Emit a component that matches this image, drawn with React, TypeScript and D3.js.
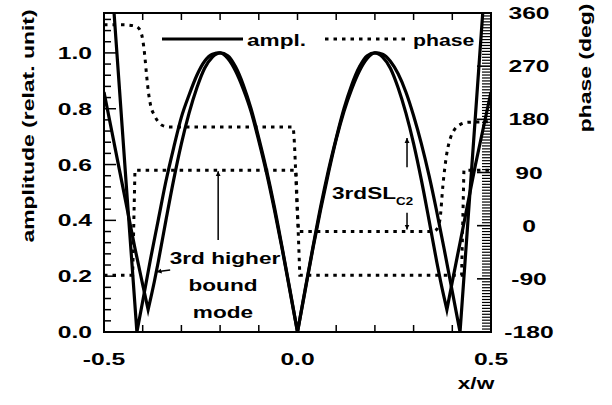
import React from "react";
import * as d3 from "d3";

const W = 612;
const H = 405;

// axis ticks
const xTickLabels = [-0.5, 0, 0.5];
const ampTickLabels = [0, 0.2, 0.4, 0.6, 0.8, 1.0];
const phaseTickLabels = [-180, -90, 0, 90, 180, 270, 360];

// amplitude curve A (zero at nodes)
const ampAX = [-0.5, -0.48, -0.46, -0.44, -0.415, -0.40, -0.38, -0.36, -0.34, -0.32, -0.30, -0.28, -0.26, -0.24, -0.22, -0.20, -0.18, -0.16, -0.14, -0.12, -0.10, -0.08, -0.06, -0.04, -0.02, 0, 0.02, 0.04, 0.06, 0.08, 0.10, 0.12, 0.14, 0.16, 0.18, 0.20, 0.22, 0.24, 0.26, 0.28, 0.30, 0.32, 0.34, 0.36, 0.38, 0.40, 0.42, 0.44, 0.46, 0.48, 0.50];
const ampA = [1.65, 1.26, 0.87, 0.48, 0.0, 0.11, 0.26, 0.40, 0.54, 0.66, 0.77, 0.85, 0.92, 0.97, 0.995, 1.0, 0.98, 0.935, 0.87, 0.79, 0.685, 0.57, 0.44, 0.30, 0.15, 0.0, 0.15, 0.30, 0.44, 0.57, 0.69, 0.79, 0.87, 0.935, 0.98, 1.0, 0.995, 0.97, 0.925, 0.86, 0.775, 0.675, 0.56, 0.43, 0.29, 0.145, 0.0, 0.39, 0.78, 1.17, 1.56];

// amplitude curve B (3rd higher bound mode, non-zero minima)
const ampBX = [-0.5, -0.48, -0.46, -0.44, -0.42, -0.40, -0.386, -0.37, -0.36, -0.34, -0.32, -0.30, -0.28, -0.26, -0.24, -0.22, -0.20, -0.18, -0.16, -0.14, -0.12, -0.10, -0.08, -0.06, -0.04, -0.02, 0, 0.02, 0.04, 0.06, 0.08, 0.10, 0.12, 0.14, 0.16, 0.18, 0.20, 0.22, 0.24, 0.26, 0.28, 0.30, 0.32, 0.34, 0.36, 0.37, 0.386, 0.40, 0.42, 0.44, 0.46, 0.48, 0.50];
const ampB = [0.86, 0.72, 0.58, 0.44, 0.30, 0.17, 0.08, 0.18, 0.25, 0.40, 0.545, 0.675, 0.785, 0.875, 0.945, 0.985, 1.0, 0.99, 0.95, 0.885, 0.80, 0.695, 0.58, 0.45, 0.305, 0.155, 0.0, 0.155, 0.305, 0.45, 0.58, 0.695, 0.80, 0.885, 0.95, 0.99, 1.0, 0.985, 0.945, 0.875, 0.785, 0.675, 0.545, 0.40, 0.25, 0.18, 0.08, 0.18, 0.32, 0.46, 0.60, 0.73, 0.86];

// phase curves (deg)
const phase1X = [-0.5, -0.45, -0.42, -0.41, -0.40, -0.395, -0.39, -0.385, -0.38, -0.37, -0.36, -0.35, -0.33, -0.012, 0.004, 0.35, 0.36, 0.368, 0.376, 0.386, 0.395, 0.405, 0.42, 0.44, 0.5];
const phase1 = [340, 340, 338, 334, 315, 290, 255, 225, 205, 187, 176, 170, 167, 167, -10, -10, -6, 10, 70, 123, 148, 162, 171, 175, 176];
const phase2X = [-0.5, -0.426, -0.42, -0.004, 0.006, 0.424, 0.43, 0.5];
const phase2 = [-84, -84, 94, 94, -84, -84, 94, 94];

const FONT = "'Liberation Sans', Arial, Helvetica, sans-serif";

function splitAtMinima(xs: number[], ys: number[]) {
  const out: [number, number][][] = [];
  let cur: [number, number][] = [[xs[0], ys[0]]];
  for (let i = 1; i < xs.length; i++) {
    cur.push([xs[i], ys[i]]);
    if (i < xs.length - 1 && ys[i] < ys[i - 1] && ys[i] < ys[i + 1]) {
      out.push(cur);
      cur = [[xs[i], ys[i]]];
    }
  }
  out.push(cur);
  return out;
}

function T({ x, y, s = 1.33, anchor = "start", size = 17, rot = 0, children }: any) {
  return (
    <text
      transform={`translate(${x},${y})${rot ? ` rotate(${rot})` : ""} scale(${s},1)`}
      textAnchor={anchor}
      fontSize={size}
      fontWeight="bold"
      fontFamily={FONT}
      fill="#000"
    >
      {children}
    </text>
  );
}

export default function App() {
  const left = 104, right = 491, top = 13, bottom = 332;
  const x = d3.scaleLinear().domain([-0.5, 0.5]).range([left, right]);
  const yA = d3.scaleLinear().domain([0, 1.143]).range([bottom, top]);
  const yP = d3.scaleLinear().domain([-180, 360]).range([bottom, top]);

  const ampLine = d3
    .line<[number, number]>()
    .x((d) => x(d[0]))
    .y((d) => yA(d[1]))
    .curve(d3.curveMonotoneX);

  const ampPath = (xs: number[], ys: number[]) => {
    const segs = splitAtMinima(xs, ys);
    return segs
      .map((s, i) => {
        const p = ampLine(s) || "";
        return i === 0 ? p : p.replace(/^M[^A-Za-z]*/, "");
      })
      .join("");
  };

  const ph1 = d3
    .line<number>()
    .x((_, i) => x(phase1X[i]))
    .y((d) => yP(d))
    .curve(d3.curveMonotoneX)(phase1) || "";
  const ph2 = d3
    .line<number>()
    .x((_, i) => x(phase2X[i]))
    .y((d) => yP(d))(phase2) || "";

  const xMinor = d3.range(-0.4, 0.45, 0.1);
  const ampMinor = d3.range(0.04, 1.13, 0.04);
  const phMinor = d3.range(-175, 360, 5);

  const dash = "3.5 5";

  return (
    <svg
      width={W}
      height={H}
      style={{ position: "absolute", left: 0, top: 0, background: "#fff" }}
    >
      <defs>
        <clipPath id="plot">
          <rect x={left} y={top} width={right - left} height={bottom - top} />
        </clipPath>
        <marker
          id="arr"
          viewBox="0 0 10 10"
          refX={10}
          refY={5}
          markerWidth={5}
          markerHeight={9}
          markerUnits="userSpaceOnUse"
          orient="auto"
        >
          <path d="M0,0 L10,5 L0,10 z" fill="#000" />
        </marker>
      </defs>
      <rect x={0} y={0} width={W} height={H} fill="#fff" />

      {/* ticks */}
      <g stroke="#000" strokeWidth={1.5}>
        {xMinor.map((v, i) => (
          <g key={"xt" + i}>
            <line x1={x(v)} x2={x(v)} y1={bottom} y2={bottom - 7} />
            <line x1={x(v)} x2={x(v)} y1={top} y2={top + 7} />
          </g>
        ))}
        {ampMinor.map((v, i) => {
          const major = Math.abs(v / 0.2 - Math.round(v / 0.2)) < 1e-6;
          return (
            <line key={"at" + i} x1={left} x2={left + (major ? 12 : 7)} y1={yA(v)} y2={yA(v)} />
          );
        })}
      </g>
      <g stroke="#000" strokeWidth={1.2}>
        {phMinor.map((v, i) => {
          const major = v % 90 === 0;
          return (
            <line key={"pt" + i} x1={right} x2={right - (major ? 14 : 9)} y1={yP(v)} y2={yP(v)} strokeWidth={major ? 1.6 : 1.2} />
          );
        })}
      </g>

      {/* curves */}
      <g clipPath="url(#plot)" fill="none" stroke="#000">
        <path d={ph1} strokeWidth={3} strokeDasharray={dash} />
        <path d={ph2} strokeWidth={3} strokeDasharray={dash} />
        <path d={ampPath(ampAX, ampA)} strokeWidth={3.2} strokeLinejoin="miter" strokeMiterlimit={10} />
        <path d={ampPath(ampBX, ampB)} strokeWidth={3.2} strokeLinejoin="miter" strokeMiterlimit={10} />
      </g>

      {/* frame */}
      <rect x={left} y={top} width={right - left} height={bottom - top} fill="none" stroke="#000" strokeWidth={2} />

      {/* tick labels */}
      {ampTickLabels.map((v) => (
        <T key={"al" + v} x={left - 12} y={yA(v) + 6} anchor="end" s={1.45}>
          {v.toFixed(1)}
        </T>
      ))}
      {phaseTickLabels.map((v) => (
        <T key={"pl" + v} x={529} y={yP(v) + 6} anchor="middle" s={1.45}>
          {String(v)}
        </T>
      ))}
      {xTickLabels.map((v) => (
        <T key={"xl" + v} x={x(v)} y={365} anchor="middle" s={1.45}>
          {v.toFixed(1)}
        </T>
      ))}

      {/* axis titles */}
      <T x={34} y={126} rot={-90} anchor="middle" s={1.35}>
        amplitude (relat. unit)
      </T>
      <T x={591} y={68} rot={-90} anchor="middle" s={1.35}>
        phase (deg)
      </T>
      <T x={476} y={389} anchor="middle" s={1.33}>
        x/w
      </T>

      {/* legend */}
      <line x1={162} x2={243} y1={39} y2={39} stroke="#000" strokeWidth={3} />
      <T x={247} y={46}>ampl.</T>
      <line x1={325} x2={408} y1={39} y2={39} stroke="#000" strokeWidth={3} strokeDasharray={dash} />
      <T x={413} y={46} s={1.25}>phase</T>

      {/* annotations */}
      <g stroke="#000" strokeWidth={1.5} fill="none">
        <line x1={x(-0.205)} x2={x(-0.205)} y1={yA(0.33)} y2={yP(94) + 1} markerEnd="url(#arr)" />
        <line x1={x(-0.329)} x2={x(-0.364)} y1={yA(0.222)} y2={yA(0.216)} markerEnd="url(#arr)" />
        <line x1={x(0.283)} x2={x(0.283)} y1={yA(0.59)} y2={yA(0.695)} markerEnd="url(#arr)" />
        <line x1={x(0.283)} x2={x(0.283)} y1={yA(0.427)} y2={yP(-10) - 2} markerEnd="url(#arr)" />
      </g>
      <T x={225} y={264} anchor="middle">3rd higher</T>
      <T x={223} y={291} anchor="middle">bound</T>
      <T x={223} y={318} anchor="middle">mode</T>
      <T x={332} y={199}>
        3rdSL
        <tspan fontSize={10} dy={6}>C2</tspan>
      </T>
    </svg>
  );
}
